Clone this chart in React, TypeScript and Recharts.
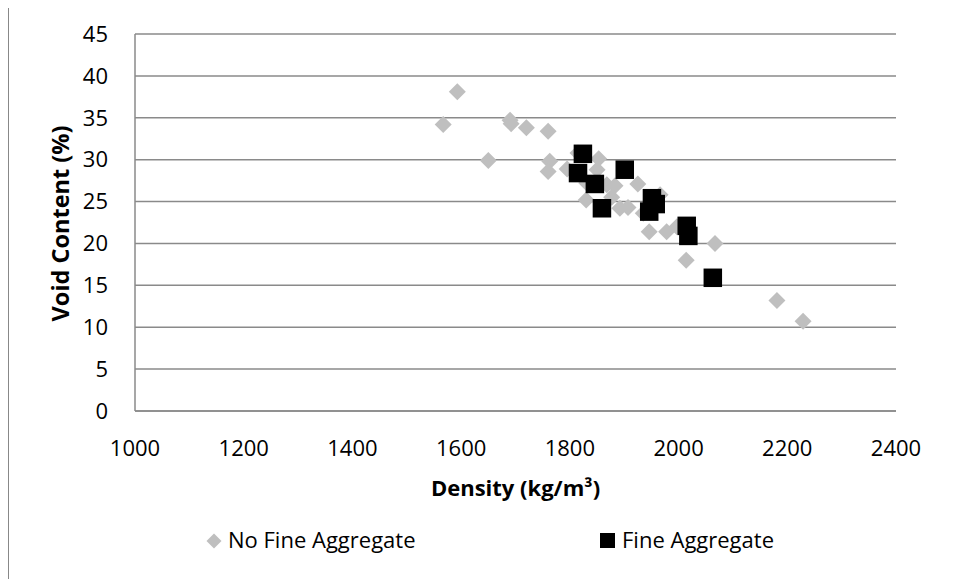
import React from 'react';
import { ScatterChart, Scatter, XAxis, YAxis, CartesianGrid } from 'recharts';

const noFineDensity = [1567, 1593, 1650, 1690, 1692, 1720, 1760, 1763, 1760, 1795, 1815, 1853, 1850, 1831, 1830, 1868, 1883, 1877, 1892, 1907, 1925, 1935, 1966, 1946, 1978, 1997, 2067, 2014, 2181, 2229];
const noFineVoid = [34.2, 38.1, 29.9, 34.7, 34.3, 33.8, 33.4, 29.8, 28.6, 28.9, 30.8, 30.1, 28.8, 27.2, 25.2, 27.0, 26.9, 25.5, 24.2, 24.3, 27.1, 23.6, 25.8, 21.4, 21.4, 22.0, 20.0, 18.0, 13.2, 10.7];

const fineDensity = [1824, 1815, 1846, 1901, 1859, 1951, 1958, 1946, 2015, 2018, 2063];
const fineVoid = [30.7, 28.4, 27.1, 28.8, 24.2, 25.4, 24.7, 23.8, 22.1, 20.9, 15.9];

const xTicks = [1000, 1200, 1400, 1600, 1800, 2000, 2200, 2400];
const yTicks = [0, 5, 10, 15, 20, 25, 30, 35, 40, 45];

const seriesNames = ['No Fine Aggregate', 'Fine Aggregate'];
const xTitle = 'Density (kg/m³)';
const yTitle = 'Void Content (%)';

const noFineData = noFineDensity.map((d, i) => ({ x: d, y: noFineVoid[i] }));
const fineData = fineDensity.map((d, i) => ({ x: d, y: fineVoid[i] }));

const FONT = "'Open Sans', 'Noto Sans', sans-serif";
const GRID = '#8a8a8a';
const DIAMOND = '#bfbfbf';
const FS = 22;

const Diamond = (props: any) => {
  const { cx, cy } = props;
  const r = 8.5;
  return <path d={`M${cx},${cy - r}L${cx + r},${cy}L${cx},${cy + r}L${cx - r},${cy}Z`} fill={DIAMOND} />;
};

const Square = (props: any) => {
  const { cx, cy } = props;
  const s = 18.5;
  return <rect x={cx - s / 2} y={cy - s / 2} width={s} height={s} fill="#000" />;
};

export default function App() {
  return (
    <div style={{ marginTop: -3, position: 'relative', width: 960, height: 590, border: '1px solid #888', boxSizing: 'border-box', background: '#fff' }}>
      <div style={{ position: 'absolute', left: 0, top: 0 }}>
        <ScatterChart width={940} height={570} margin={{ top: 28, right: 53, left: 46, bottom: 115 }}>
          <CartesianGrid horizontal={true} vertical={false} stroke={GRID} strokeWidth={1.5} />
          <XAxis
            type="number"
            dataKey="x"
            domain={[1000, 2400]}
            ticks={xTicks}
            interval={0}
            height={50}
            tickSize={0}
            tickMargin={29}
            tickLine={false}
            axisLine={{ stroke: GRID, strokeWidth: 1.5 }}
            tick={{ fill: '#000', fontSize: FS, fontFamily: FONT }}
            label={{
              content: (p: any) => {
                const vb = p.viewBox;
                return (
                  <text x={vb.x + vb.width / 2} y={vb.y + 85} textAnchor="middle" fontFamily={FONT} fontSize={22} fontWeight="bold" fill="#000">
                    {xTitle}
                  </text>
                );
              },
            }}
          />
          <YAxis
            type="number"
            dataKey="y"
            domain={[0, 45]}
            ticks={yTicks}
            interval={0}
            width={80}
            tickSize={0}
            tickMargin={27}
            tickLine={false}
            axisLine={{ stroke: GRID, strokeWidth: 1.5 }}
            tick={{ fill: '#000', fontSize: FS, fontFamily: FONT }}
            label={{
              content: (p: any) => {
                const vb = p.viewBox;
                const lx = vb.x + 14;
                const ly = vb.y + vb.height / 2 + 1;
                return (
                  <text x={lx} y={ly} transform={`rotate(-90, ${lx}, ${ly})`} textAnchor="middle" fontFamily={FONT} fontSize={23.5} fontWeight="bold" fill="#000">
                    {yTitle}
                  </text>
                );
              },
            }}
          />
          <Scatter name={seriesNames[0]} data={noFineData} shape={Diamond} isAnimationActive={false} />
          <Scatter name={seriesNames[1]} data={fineData} shape={Square} isAnimationActive={false} />
        </ScatterChart>
      </div>
      <svg width={940} height={570} style={{ position: 'absolute', left: 0, top: 0, pointerEvents: 'none' }}>
        <path d="M205,527.5L212.5,535L205,542.5L197.5,535Z" fill={DIAMOND} />
        <text x={219} y={542} fontFamily={FONT} fontSize={FS} fill="#000">{seriesNames[0]}</text>
        <rect x={591} y={527} width={15} height={15} fill="#000" />
        <text x={613} y={542} fontFamily={FONT} fontSize={FS} fill="#000">{seriesNames[1]}</text>
      </svg>
    </div>
  );
}
